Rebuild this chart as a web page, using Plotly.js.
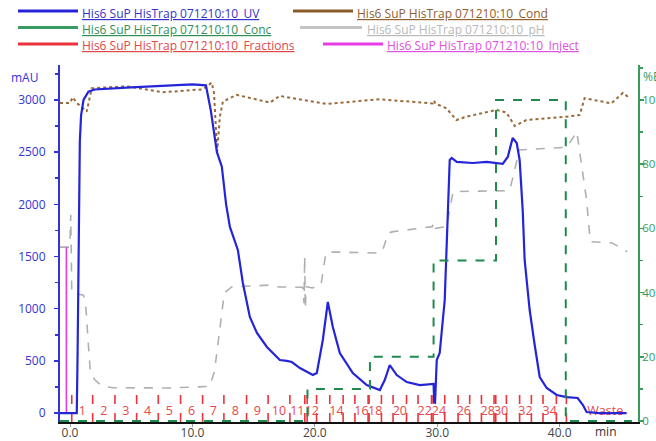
<!DOCTYPE html>
<html><head><meta charset="utf-8">
<script src="https://cdn.plot.ly/plotly-3.0.1.min.js"></script>
<style>body{margin:0;background:#fff}#chart{width:656px;height:441px}</style>
</head><body><div id="chart"></div>
<script>
// ---- data ----
const uvT = [-0.82,0.55,0.62,0.7,0.8,0.9,1.1,1.5,2.0,5.0,8.0,10.0,11.1,11.5,12.0,12.4,12.75,13.06,13.71,14.12,14.69,15.27,16.08,17.14,17.71,18.12,18.78,19.84,20.16,20.65,21.06,21.47,22.04,23.1,24.24,25.31,25.71,26.12,26.69,27.51,28.57,29.7,29.75,29.82,29.96,30.2,30.61,30.78,30.86,31.02,31.18,31.59,32.9,34.04,35.35,35.76,36.16,36.49,36.73,36.98,37.14,37.55,37.96,38.37,38.94,39.76,40.57,41.47,41.9,42.2,43.27,45.47];
const uvA = [0,0,600,1600,2600,2850,3000,3080,3100,3120,3140,3150,3140,2900,2500,2360,2000,1783,1563,1246,920,767,633,508,499,489,431,364,383,700,1064,824,575,383,268,220,316,460,364,297,268,278,105,100,508,575,1083,1725,2040,2425,2445,2406,2396,2406,2387,2454,2636,2588,2425,1946,1467,987,652,345,240,173,153,144,77,10,0,0];

const condT = [-0.82,0,0.22,0.55,1.22,1.36,1.77,4.63,7.59,10.86,11.57,11.76,12.02,12.24,12.49,13.61,16.33,17.14,18.2,18.78,20.96,23.67,25.31,29.63,29.72,29.85,30.75,31.57,32.38,34.83,35.65,36.33,37.28,40.55,41.63,42.04,44.22,45.17,45.58];
const condV = [2971,2971,3026,2971,2904,2888,3112,3131,3074,3102,3166,3068,2505,2840,2985,3049,2975,3039,3017,3006,2962,2990,3006,2967,2995,2965,2920,2808,2840,2904,2879,2751,2808,2840,2856,3017,2967,3068,3030];

const phT = [-0.82,-0.02,0.06,0.14,1.1,1.3,1.5,1.65,2.0,2.6,3.5,8.0,11.4,11.8,12.2,12.6,13.2,16.5,17.1,19.0,19.12,19.17,19.22,19.3,19.8,20.5,20.9,21.5,24.9,25.5,26.0,26.4,29.6,29.72,29.85,30.75,31.3,35.9,36.2,36.7,40.6,41.4,42.2,42.5,44.3,45.5];
const phV = [1590,1590,1900,1150,1130,1000,650,410,320,260,242,240,255,400,767,1150,1208,1227,1208,1205,1050,1500,1000,1210,1198,1227,1534,1543,1534,1546,1725,1738,1786,1830,1770,1786,2122,2131,2266,2521,2547,2697,2042,1642,1630,1546];

const concT = [-0.82,19.4,24.5,29.7,34.8,40.5,45.9];
const concB = [0,10,20,50,100,0,0];

const fracBounds = [0.14,1.85,3.67,5.44,7.21,9.03,10.83,12.57,14.42,16.18,17.96,19.18,19.37,20.14,21.22,22.31,23.27,24.35,24.43,25.44,26.39,27.49,28.43,29.53,29.66,30.61,31.7,32.65,33.61,34.64,34.78,35.65,36.73,37.69,38.64,39.73,40.55,46.9];
const fracLabels = ["1","2","3","4","5","6","7","8","9","10","11","","12","","14","","16","","18","","20","","22","","24","","26","","28","","30","","32","","34","","Waste"];

const injectT = [-0.3];
const injectTop = 1590;

const xTicks = [0,10,20,30,40];
const yTicks = [0,500,1000,1500,2000,2500,3000];
const bTicks = [0,20,40,60,80,100];

const legendNames = ["His6 SuP HisTrap 071210:10_UV","His6 SuP HisTrap 071210:10_Cond","His6 SuP HisTrap 071210:10_Conc","His6 SuP HisTrap 071210:10_pH","His6 SuP HisTrap 071210:10_Fractions","His6 SuP HisTrap 071210:10_Inject"];

// ---- styling ----
const FONT = "Open Sans, Noto Sans, sans-serif";
const C = {uv:'#2424d8', cond:'#8b5a2b', conc:'#1f8a4c', ph:'#b0b0b0', frac:'#e8343a', inj:'#e63ce6', left:'#3434d6', right:'#3a9a5e'};
const Y0 = -86, Y1 = 3335;

// fraction marks
const fx = [], fy = [];
for (let i = 0; i < fracBounds.length - 1; i++) { fx.push(fracBounds[i], fracBounds[i], null); fy.push(Y0, 220, null); }
const lx = [], lt = [];
for (let i = 0; i < fracLabels.length; i++) { if (fracLabels[i]) { lx.push((fracBounds[i] + fracBounds[i+1]) / 2); lt.push(fracLabels[i]); } }
const ix = [], iy = [];
injectT.forEach(t => { ix.push(t, t, null); iy.push(0, injectTop, null); });

const traces = [
  {x: phT, y: phV, mode:'lines', line:{color:C.ph, width:1.6, dash:'dash'}, showlegend:false, hoverinfo:'skip'},
  {x: condT, y: condV, mode:'lines', line:{color:'#9a6a3a', width:2, dash:'dot'}, showlegend:false, hoverinfo:'skip'},
  {x: concT, y: concB, yaxis:'y2', mode:'lines', line:{color:C.conc, width:2, dash:'dash', shape:'hv'}, showlegend:false, hoverinfo:'skip'},
  {x: fx, y: fy, mode:'lines', line:{color:C.frac, width:1.6, dash:'dash'}, showlegend:false, hoverinfo:'skip'},
  {x: ix, y: iy, mode:'lines', line:{color:C.inj, width:1.6}, showlegend:false, hoverinfo:'skip'},
  {x: lx, y: lt.map(() => 10), text: lt, mode:'text', textfont:{family:FONT, size:12.5, color:'#e8474b'}, showlegend:false, hoverinfo:'skip'},
  {x: uvT, y: uvA, mode:'lines', line:{color:C.uv, width:2.2}, showlegend:false, hoverinfo:'skip'}
];

// legend built from pixel positions
const L = 60, T = 65, W = 578, H = 357;
const px = v => (v - L) / W, py = v => (T + H - v) / H;
const legendItems = [
  {c:C.uv,   tc:'#3333cc', x0:18,  x1:78,  tx:80,  y:12},
  {c:'#8b5a2b', tc:'#8f6030', x0:293, x1:353, tx:355, y:12},
  {c:'#3a9a64', tc:'#2f8f55', x0:18,  x1:78,  tx:80,  y:28.5},
  {c:'#c4c4c4', tc:'#b8b8b8', x0:300, x1:362, tx:365, y:28.5},
  {c:'#e8343a', tc:'#e04848', x0:18,  x1:78,  tx:80,  y:45},
  {c:'#e63ce6', tc:'#e050e0', x0:323, x1:383, tx:385, y:45}
];
const shapes = legendItems.map(it => ({type:'line', xref:'paper', yref:'paper', x0:px(it.x0), x1:px(it.x1), y0:py(it.y-1), y1:py(it.y-1), line:{color:it.c, width:3}}));
const annotations = legendItems.map((it, i) => ({xref:'paper', yref:'paper', x:px(it.tx), y:py(it.y+1), xanchor:'left', yanchor:'middle', showarrow:false, text:legendNames[i], font:{family:FONT, size:12, color:it.tc, lineposition:'under'}}));
annotations.push({xref:'paper', yref:'paper', x:px(24), y:py(77), xanchor:'center', yanchor:'middle', showarrow:false, text:'mAU', font:{family:FONT, size:12, color:C.left}});
annotations.push({xref:'paper', yref:'paper', x:px(641), y:py(76), xanchor:'left', yanchor:'middle', showarrow:false, text:'%B', font:{family:FONT, size:12, color:C.right}});
annotations.push({xref:'paper', yref:'paper', x:px(606), y:py(432), xanchor:'center', yanchor:'middle', showarrow:false, text:'min', font:{family:FONT, size:12, color:'#333'}});

const layout = {
  width:656, height:441,
  margin:{l:L, r:18, t:T, b:19, pad:0},
  paper_bgcolor:'#fff', plot_bgcolor:'#fff',
  showlegend:false,
  font:{family:FONT, size:12},
  xaxis:{range:[-0.82,46.4], showgrid:false, zeroline:false, showline:true, linecolor:'#111', linewidth:2,
         tickvals:xTicks, ticktext:xTicks.map(v => v.toFixed(1)), ticks:'outside', ticklen:3, tickcolor:'#999',
         tickfont:{family:FONT, size:12, color:'#444'}, ticklabelstandoff:-4},
  yaxis:{range:[Y0,Y1], showgrid:false, zeroline:false, showline:true, linecolor:C.left, linewidth:2,
         tickvals:yTicks, ticks:'outside', ticklen:4, tickcolor:C.left, tickwidth:1.5,
         minor:{dtick:250, tick0:0, ticks:'outside', ticklen:3, tickcolor:C.left, showgrid:false},
         tickfont:{family:FONT, size:12, color:C.left}, ticklabelstandoff:6},
  yaxis2:{range:[-0.31,110.9], overlaying:'y', side:'right', showgrid:false, zeroline:false, showline:true, linecolor:C.right, linewidth:2,
          tickvals:bTicks, ticks:'outside', ticklen:4, tickcolor:C.right, tickwidth:1.5,
          minor:{dtick:10, tick0:0, ticks:'outside', ticklen:3, tickcolor:C.right, showgrid:false},
          tickfont:{family:FONT, size:11.5, color:C.right}, ticklabelstandoff:-4},
  shapes: shapes,
  annotations: annotations
};
Plotly.newPlot('chart', traces, layout, {staticPlot:true, displayModeBar:false});
</script></body></html>
